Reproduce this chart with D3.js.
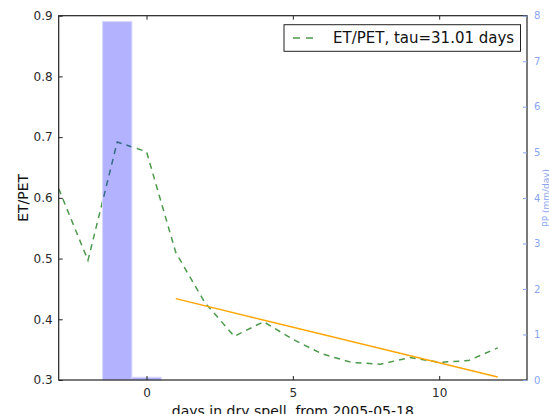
<!DOCTYPE html>
<html>
<head>
<meta charset="utf-8">
<script src="https://cdn.jsdelivr.net/npm/d3@7"></script>
<style>
  html, body { margin: 0; padding: 0; background: #fff; }
  svg { display: block; font-family: "DejaVu Sans", sans-serif; }
</style>
</head>
<body>
<svg id="chart" width="549" height="414"></svg>
<script>
// ---- data ----
const days = [-3, -2, -1, 0, 1, 2, 3, 4, 5, 6, 7, 8, 9, 10, 11, 12];
const etPet = [0.615, 0.497, 0.692, 0.676, 0.510, 0.427, 0.372, 0.396, 0.367, 0.343, 0.329, 0.326, 0.337, 0.329, 0.332, 0.353];
const ppDays = [-1, 0];
const ppValues = [7.87, 0.06];
const fitDays = [1, 12];
const fitValues = [0.434, 0.305];
const xTicks = [0, 5, 10];
const yTicks = [0.3, 0.4, 0.5, 0.6, 0.7, 0.8, 0.9];
const y2Ticks = [0, 1, 2, 3, 4, 5, 6, 7, 8];
const legendLabel = "ET/PET, tau=31.01 days";
const xLabel = "days in dry spell, from 2005-05-18";
const yLabel = "ET/PET";
const y2Label = "PP (mm/day)";

// ---- layout ----
const L = 58.7, R = 527, T = 15.7, B = 380;
const svg = d3.select("#chart");

const x = d3.scaleLinear().domain([-3, 13]).range([L, R]);
const y = d3.scaleLinear().domain([0.3, 0.9]).range([B, T]);
const y2 = d3.scaleLinear().domain([0, 8]).range([B, T]);

const tickLen = 4;
const axisColor = "#222";
const ppColor = "#8aa6f2";

// ET/PET dashed line
const line = d3.line().x((d, i) => x(days[i])).y(d => y(d));
svg.append("path")
  .datum(etPet)
  .attr("d", line)
  .attr("fill", "none")
  .attr("stroke", "#1f7f1f")
  .attr("stroke-opacity", 0.8)
  .attr("stroke-width", 1.5)
  .attr("stroke-dasharray", "6,5");

// fit line
const fitLine = d3.line().x((d, i) => x(fitDays[i])).y(d => y(d));
svg.append("path")
  .datum(fitValues)
  .attr("d", fitLine)
  .attr("fill", "none")
  .attr("stroke", "orange")
  .attr("stroke-width", 1.5);

// precipitation bars (twin axis, drawn on top)
svg.append("g").selectAll("rect")
  .data(ppValues)
  .join("rect")
  .attr("x", (d, i) => x(ppDays[i] - 0.5))
  .attr("width", (d, i) => x(ppDays[i] + 0.5) - x(ppDays[i] - 0.5))
  .attr("y", d => y2(d))
  .attr("height", d => B - y2(d))
  .attr("fill", "blue")
  .attr("fill-opacity", 0.3)
  .attr("stroke", "#d6d6ff")
  .attr("stroke-width", 1);

// frame
svg.append("rect")
  .attr("x", L).attr("y", T)
  .attr("width", R - L).attr("height", B - T)
  .attr("fill", "none")
  .attr("stroke", axisColor)
  .attr("stroke-width", 1.2);

// bottom axis (ticks inward)
const xAxis = d3.axisBottom(x).tickValues(xTicks).tickSize(-tickLen).tickPadding(8).tickFormat(d3.format("d"));
const gx = svg.append("g").attr("transform", `translate(0,${B})`).call(xAxis);
// top mirrored ticks
const xAxisTop = d3.axisTop(x).tickValues(xTicks).tickSize(-tickLen).tickFormat("");
const gxt = svg.append("g").attr("transform", `translate(0,${T})`).call(xAxisTop);

// left axis
const yAxis = d3.axisLeft(y).tickValues(yTicks).tickSize(-tickLen).tickPadding(6).tickFormat(d3.format(".1f"));
const gy = svg.append("g").attr("transform", `translate(${L},0)`).call(yAxis);

// right axis
const y2Axis = d3.axisRight(y2).tickValues(y2Ticks).tickSize(-tickLen).tickPadding(7).tickFormat(d3.format("d"));
const gy2 = svg.append("g").attr("transform", `translate(${R},0)`).call(y2Axis);

[gx, gxt, gy].forEach(g => {
  g.select(".domain").remove();
  g.selectAll(".tick line").attr("stroke", axisColor);
  g.selectAll(".tick text").attr("fill", "#2a2a2a").attr("font-size", 12).attr("font-family", "DejaVu Sans");
});
gy2.select(".domain").remove();
gy2.selectAll(".tick line").attr("stroke", ppColor);
gy2.selectAll(".tick text").attr("fill", ppColor).attr("font-size", 10).attr("font-family", "DejaVu Sans");

// axis labels
svg.append("text")
  .attr("transform", `translate(23,${(T + B) / 2}) rotate(-90)`)
  .attr("text-anchor", "middle")
  .attr("dominant-baseline", "central")
  .attr("font-size", 14)
  .attr("fill", "#111")
  .text(yLabel);

svg.append("text")
  .attr("transform", `translate(546,${(T + B) / 2}) rotate(-90)`)
  .attr("text-anchor", "middle")
  .attr("dominant-baseline", "central")
  .attr("font-size", 9)
  .attr("fill", ppColor)
  .text(y2Label);

svg.append("text")
  .attr("x", (L + R) / 2)
  .attr("y", 415.5)
  .attr("text-anchor", "middle")
  .attr("font-size", 14)
  .attr("fill", "#111")
  .text(xLabel);

// legend
const lg = svg.append("g");
lg.append("rect")
  .attr("x", 284).attr("y", 24.7)
  .attr("width", 236.5).attr("height", 26.6)
  .attr("fill", "#fff")
  .attr("stroke", axisColor)
  .attr("stroke-width", 1);
lg.append("line")
  .attr("x1", 293).attr("x2", 314)
  .attr("y1", 38).attr("y2", 38)
  .attr("stroke", "#1f7f1f")
  .attr("stroke-opacity", 0.8)
  .attr("stroke-width", 1.5)
  .attr("stroke-dasharray", "7,6");
lg.append("text")
  .attr("x", 333).attr("y", 38)
  .attr("dominant-baseline", "central")
  .attr("font-size", 15)
  .attr("fill", "#111")
  .text(legendLabel);
</script>
</body>
</html>
